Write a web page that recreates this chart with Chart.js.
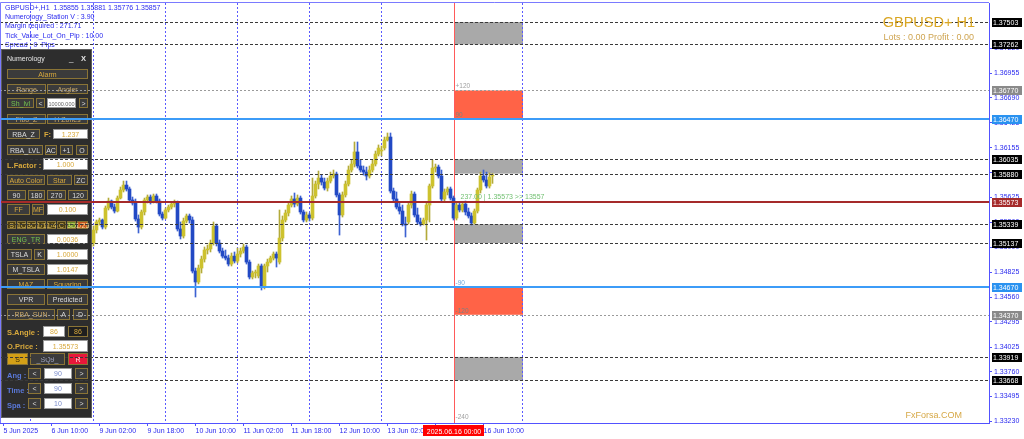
<!DOCTYPE html>
<html>
<head>
<meta charset="utf-8">
<script src="https://cdn.jsdelivr.net/npm/chart.js@4.4.1/dist/chart.umd.min.js"></script>
<style>
html, body { margin: 0; padding: 0; background: #fff; }
#wrap { width: 1024px; height: 439px; }
</style>
</head>
<body>
<div id="wrap"><canvas id="priceGraph" width="1024" height="439"></canvas></div>
<script>
/*** Data: GBPUSD+ H1 candles, bar 0 = 5 Jun 18:00 ***/
const opens = [
    1.35277, 1.35320, 1.35256, 1.35191, 1.35223, 1.35159, 1.35213, 1.35288, 1.35245, 1.35330,
    1.35373, 1.35320, 1.35266, 1.35213, 1.35170, 1.35234, 1.35202, 1.35127, 1.35084, 1.35138,
    1.35181, 1.35149, 1.35213, 1.35170, 1.35106, 1.35063, 1.35116, 1.35074, 1.35127, 1.35095,
    1.35138, 1.35277, 1.35363, 1.35384, 1.35309, 1.35512, 1.35587, 1.35523, 1.35480, 1.35619,
    1.35705, 1.35758, 1.35716, 1.35598, 1.35566, 1.35395, 1.35309, 1.35470, 1.35598, 1.35630,
    1.35577, 1.35641, 1.35587, 1.35448, 1.35405, 1.35491, 1.35523, 1.35555, 1.35566, 1.35288,
    1.35213, 1.35373, 1.35427, 1.35384, 1.34838, 1.34721, 1.34870, 1.34966, 1.35063, 1.35074,
    1.35138, 1.35320, 1.35138, 1.35052, 1.34998, 1.34977, 1.34913, 1.34998, 1.34945, 1.35020,
    1.35052, 1.35095, 1.34934, 1.34774, 1.34817, 1.34785, 1.34892, 1.34667, 1.34892, 1.34934,
    1.34977, 1.35020, 1.34934, 1.35191, 1.35384, 1.35459, 1.35544, 1.35609, 1.35555, 1.35619,
    1.35470, 1.35384, 1.35438, 1.35405, 1.35641, 1.35769, 1.35833, 1.35790, 1.35726, 1.35801,
    1.35855, 1.35876, 1.35652, 1.35438, 1.35652, 1.35769, 1.35919, 1.35983, 1.36112, 1.35962,
    1.35919, 1.35897, 1.35855, 1.35919, 1.35983, 1.36090, 1.36122, 1.36154, 1.36240, 1.36272,
    1.35694, 1.35609, 1.35523, 1.35480, 1.35341, 1.35363, 1.35544, 1.35662, 1.35438, 1.35363,
    1.35341, 1.35384, 1.35544, 1.35748, 1.35940, 1.35951, 1.35855, 1.35609, 1.35684, 1.35716,
    1.35619, 1.35405, 1.35544, 1.35491, 1.35555, 1.35470, 1.35427, 1.35352, 1.35480, 1.35705,
    1.35855, 1.35812, 1.35748, 1.35855
];
const highs = [
    1.35352, 1.35352, 1.35277, 1.35245, 1.35245, 1.35234, 1.35320, 1.35309, 1.35363, 1.35405,
    1.35395, 1.35341, 1.35288, 1.35234, 1.35266, 1.35256, 1.35223, 1.35149, 1.35159, 1.35213,
    1.35202, 1.35245, 1.35234, 1.35191, 1.35127, 1.35138, 1.35138, 1.35149, 1.35159, 1.35170,
    1.35320, 1.35384, 1.35405, 1.35395, 1.35534, 1.35619, 1.35598, 1.35555, 1.35641, 1.35737,
    1.35801, 1.35801, 1.35737, 1.35630, 1.35609, 1.35438, 1.35491, 1.35619, 1.35652, 1.35652,
    1.35662, 1.35662, 1.35609, 1.35470, 1.35512, 1.35544, 1.35577, 1.35598, 1.35587, 1.35363,
    1.35405, 1.35448, 1.35448, 1.35416, 1.34870, 1.34902, 1.34998, 1.35095, 1.35116, 1.35170,
    1.35363, 1.35341, 1.35170, 1.35084, 1.35063, 1.35009, 1.35031, 1.35042, 1.35084, 1.35084,
    1.35127, 1.35116, 1.34956, 1.34838, 1.34849, 1.34913, 1.34913, 1.34913, 1.34966, 1.34998,
    1.35042, 1.35042, 1.35491, 1.35427, 1.35491, 1.35566, 1.35641, 1.35673, 1.35652, 1.35641,
    1.35491, 1.35470, 1.35459, 1.35833, 1.35801, 1.35908, 1.35865, 1.35833, 1.35833, 1.35897,
    1.35919, 1.35897, 1.35673, 1.35684, 1.35801, 1.35962, 1.36026, 1.36219, 1.36219, 1.36026,
    1.35962, 1.35951, 1.35962, 1.36026, 1.36122, 1.36187, 1.36176, 1.36272, 1.36315, 1.36315,
    1.35726, 1.35684, 1.35577, 1.35544, 1.35416, 1.35566, 1.35694, 1.35684, 1.35512, 1.35405,
    1.35405, 1.35566, 1.35769, 1.36026, 1.35983, 1.35972, 1.35919, 1.35716, 1.35737, 1.35737,
    1.35641, 1.35566, 1.35577, 1.35577, 1.35587, 1.35512, 1.35459, 1.35502, 1.35726, 1.35897,
    1.35919, 1.35897, 1.35887, 1.35881
];
const lows = [
    1.35245, 1.35223, 1.35159, 1.35170, 1.35127, 1.35138, 1.35191, 1.35223, 1.35223, 1.35309,
    1.35298, 1.35245, 1.35181, 1.35138, 1.35149, 1.35170, 1.35095, 1.35052, 1.35063, 1.35116,
    1.35116, 1.35127, 1.35149, 1.35074, 1.35031, 1.35042, 1.35052, 1.35063, 1.35074, 1.35084,
    1.35106, 1.35245, 1.35330, 1.35288, 1.35288, 1.35491, 1.35502, 1.35459, 1.35470, 1.35609,
    1.35684, 1.35694, 1.35577, 1.35544, 1.35373, 1.35245, 1.35288, 1.35438, 1.35566, 1.35555,
    1.35566, 1.35566, 1.35427, 1.35384, 1.35395, 1.35470, 1.35502, 1.35523, 1.35266, 1.35181,
    1.35191, 1.35352, 1.35352, 1.34817, 1.34560, 1.34700, 1.34817, 1.34934, 1.35020, 1.35042,
    1.35116, 1.35106, 1.35031, 1.34977, 1.34956, 1.34892, 1.34892, 1.34924, 1.34924, 1.34988,
    1.35031, 1.34913, 1.34753, 1.34753, 1.34764, 1.34764, 1.34635, 1.34646, 1.34828, 1.34924,
    1.34956, 1.34881, 1.34913, 1.35159, 1.35363, 1.35427, 1.35523, 1.35523, 1.35534, 1.35448,
    1.35363, 1.35363, 1.35373, 1.35384, 1.35619, 1.35716, 1.35758, 1.35705, 1.35694, 1.35780,
    1.35833, 1.35630, 1.35223, 1.35416, 1.35630, 1.35748, 1.35897, 1.35951, 1.35940, 1.35897,
    1.35865, 1.35812, 1.35833, 1.35897, 1.35962, 1.36069, 1.36069, 1.36133, 1.36229, 1.35673,
    1.35577, 1.35502, 1.35448, 1.35320, 1.35202, 1.35341, 1.35512, 1.35416, 1.35341, 1.35320,
    1.35330, 1.35170, 1.35363, 1.35726, 1.35897, 1.35833, 1.35587, 1.35587, 1.35652, 1.35598,
    1.35384, 1.35384, 1.35470, 1.35470, 1.35438, 1.35405, 1.35330, 1.35341, 1.35459, 1.35673,
    1.35790, 1.35726, 1.35726, 1.35776
];
const closes = [
    1.35320, 1.35256, 1.35191, 1.35223, 1.35159, 1.35213, 1.35288, 1.35245, 1.35330, 1.35373,
    1.35320, 1.35266, 1.35213, 1.35170, 1.35234, 1.35202, 1.35127, 1.35084, 1.35138, 1.35181,
    1.35149, 1.35213, 1.35170, 1.35106, 1.35063, 1.35116, 1.35074, 1.35127, 1.35095, 1.35138,
    1.35277, 1.35363, 1.35384, 1.35309, 1.35512, 1.35587, 1.35523, 1.35480, 1.35619, 1.35705,
    1.35758, 1.35716, 1.35598, 1.35566, 1.35395, 1.35309, 1.35470, 1.35598, 1.35630, 1.35577,
    1.35641, 1.35587, 1.35448, 1.35405, 1.35491, 1.35523, 1.35555, 1.35566, 1.35288, 1.35213,
    1.35373, 1.35427, 1.35384, 1.34838, 1.34721, 1.34870, 1.34966, 1.35063, 1.35074, 1.35138,
    1.35320, 1.35138, 1.35052, 1.34998, 1.34977, 1.34913, 1.34998, 1.34945, 1.35020, 1.35052,
    1.35095, 1.34934, 1.34774, 1.34817, 1.34828, 1.34892, 1.34667, 1.34892, 1.34934, 1.34977,
    1.35020, 1.34977, 1.35191, 1.35384, 1.35459, 1.35544, 1.35609, 1.35555, 1.35619, 1.35470,
    1.35384, 1.35438, 1.35405, 1.35641, 1.35769, 1.35833, 1.35790, 1.35726, 1.35801, 1.35855,
    1.35876, 1.35652, 1.35438, 1.35652, 1.35769, 1.35919, 1.35983, 1.36112, 1.35962, 1.35919,
    1.35897, 1.35855, 1.35919, 1.35983, 1.36090, 1.36154, 1.36133, 1.36240, 1.36272, 1.35694,
    1.35609, 1.35523, 1.35480, 1.35341, 1.35330, 1.35544, 1.35662, 1.35438, 1.35363, 1.35341,
    1.35384, 1.35544, 1.35748, 1.35940, 1.35951, 1.35855, 1.35609, 1.35684, 1.35716, 1.35619,
    1.35405, 1.35544, 1.35491, 1.35555, 1.35470, 1.35427, 1.35352, 1.35480, 1.35705, 1.35855,
    1.35812, 1.35748, 1.35844, 1.35857
];

// time axis
const xLabels = ['5 Jun 2025', '6 Jun 10:00', '9 Jun 02:00', '9 Jun 18:00', '10 Jun 10:00', '11 Jun 02:00',
    '11 Jun 18:00', '12 Jun 10:00', '13 Jun 02:00', '13 Jun 18:00', '16 Jun 10:00'];
const xLabelBars = [0, 16, 32, 48, 64, 80, 96, 112, 128, 144, 160];
const daySeparatorBars = [9, 30, 54, 78, 102, 126, 173];
const markerBar = 150;            // 2025.06.16 00:00
const markerLabel = '2025.06.16 00:00';
const zoneEndBar = 173;

// price axis
const yTicks = [1.37220, 1.36955, 1.36690, 1.36425, 1.36155, 1.35890, 1.35625, 1.35360,
    1.35090, 1.34825, 1.34560, 1.34295, 1.34025, 1.33760, 1.33495, 1.33230];
const yMin = 1.33212;
const yMax = 1.37706;

// levels drawn on the chart
const blackLevels = [1.37503, 1.37262, 1.36035, 1.35880, 1.35339, 1.35137, 1.33919, 1.33668];
const grayLevels = [1.36770, 1.34370];
const blueLevels = [1.36470, 1.34670];
const openPriceLevel = 1.35573;
const grayZones = [[1.37503, 1.37262], [1.36035, 1.35880], [1.35339, 1.35137], [1.33919, 1.33668]];
const redZones = [[1.36770, 1.36470], [1.34670, 1.34370]];
const angleTexts = ['+120', '90', '-90', '-120', '-240'];
const angleLevels = [1.36770, 1.36470, 1.34670, 1.34370, 1.33230];

const infoLines = [
    'GBPUSD+,H1  ' + [opens, highs, lows, closes].map(a => a[a.length - 1].toFixed(5)).join(' '),
    'Numerology_Station V : 3.90',
    'Margin required : 271.71',
    'Tick_Value_Lot_On_Pip : 10.00',
    'Spread : 0  Pips'
];

/*** Style ***/
const FONT = '"Liberation Sans", Arial, sans-serif';
const axisBlue = '#5252ff';
const txtBlue = '#2a2aee';
const bullColor = '#cdc22e';
const bearColor = '#2249c4';
const bullWick = '#b3aa3a';
const bearWick = '#3d62d2';
const G = '#d8a93c', W = '#dcdcdc', N = '#72c24e', T = '#c9a867';

// Numerology panel controls: label, x, y, w, h, kind, text colour
const panelButtons = [
    ['Alarm', 7, 69, 81, 10, 'btn', G],
    ['Range', 7, 84, 39, 10, 'btn', T], ['Angler', 47, 84, 41, 10, 'btn', T],
    ['Sh_lvl', 7, 98, 27, 10, 'btn', N], ['<', 36, 98, 9, 10, 'btn', W],
    ['10000.000', 47, 98, 29, 10, 'inp', '#666'], ['>', 79, 98, 9, 10, 'btn', W],
    ['Fibo_Z', 7, 114, 39, 10, 'btn', T], ['H Zones', 47, 114, 41, 10, 'btn', T],
    ['RBA_Z', 7, 129, 33, 10, 'btn', W], ['1.237', 53, 129, 35, 10, 'inp', G],
    ['RBA_LVL', 7, 145, 36, 10, 'btn', W], ['AC', 45, 145, 12, 10, 'btn', W],
    ['+1', 60, 145, 13, 10, 'btn', W], ['O', 76, 145, 12, 10, 'btn', W],
    ['1.000', 43, 158, 45, 12, 'inp', G],
    ['Auto Color', 7, 175, 38, 10, 'btn', G], ['Star', 47, 175, 25, 10, 'btn', G], ['ZC', 74, 175, 14, 10, 'btn', W],
    ['90', 7, 190, 19, 10, 'btn', W], ['180', 28, 190, 17, 10, 'btn', W],
    ['270', 47, 190, 19, 10, 'btn', W], ['120', 68, 190, 20, 10, 'btn', W],
    ['FF', 7, 204, 23, 11, 'btn', G], ['MF', 32, 204, 12, 11, 'btn', G], ['0.100', 47, 204, 41, 11, 'inp', G],
    ['S', 7, 221, 9, 8, 'olive', '#e0c060'], ['1C', 17, 221, 9, 8, 'olive', '#e0c060'],
    ['3C', 27, 221, 9, 8, 'olive', '#e0c060'], ['1/1', 37, 221, 9, 8, 'olive', '#e0c060'],
    ['1/4', 47, 221, 9, 8, 'olive', '#e0c060'], ['C', 57, 221, 9, 8, 'olive', '#e0c060'],
    ['3D', 67, 221, 9, 8, 'green', '#e0e080'], ['1/25', 77, 221, 11, 8, 'orange', '#ffe0a0'],
    ['ENG_TR', 7, 234, 38, 10, 'btn', N], ['0.0036', 47, 234, 41, 10, 'inp', G],
    ['TSLA', 7, 249, 25, 11, 'btn', W], ['K', 34, 249, 11, 11, 'btn', W], ['1.0000', 47, 249, 41, 11, 'inp', G],
    ['M_TSLA', 7, 264, 38, 11, 'btn', W], ['1.0147', 47, 264, 41, 11, 'inp', G],
    ['MAZ', 7, 279, 38, 10, 'btn', G], ['Squaring', 47, 279, 41, 10, 'btn', G],
    ['VPR', 7, 294, 38, 11, 'btn', W], ['Predicted', 47, 294, 41, 11, 'btn', W],
    ['RBA_SUN', 7, 309, 48, 11, 'btn', T], ['A', 57, 309, 13, 11, 'btn', W], ['D', 73, 309, 15, 11, 'btn', W],
    ['86', 43, 326, 22, 11, 'inp', G], ['86', 68, 326, 20, 11, 'dark', G],
    ['1.35573', 43, 340, 45, 12, 'inp', G],
    ['S', 7, 353, 21, 12, 'gold', '#3a2a00'], ['_SQ9_', 30, 353, 35, 12, 'btn', '#a0a4c0'], ['R', 68, 353, 20, 12, 'red', '#ffe8e8'],
    ['<', 28, 368, 13, 11, 'btn', W], ['90', 44, 368, 28, 11, 'inp', '#7a8ccc'], ['>', 75, 368, 13, 11, 'btn', W],
    ['<', 28, 383, 13, 11, 'btn', W], ['90', 44, 383, 28, 11, 'inp', '#7a8ccc'], ['>', 75, 383, 13, 11, 'btn', W],
    ['<', 28, 398, 13, 11, 'btn', W], ['10', 44, 398, 28, 11, 'inp', '#7a8ccc'], ['>', 75, 398, 13, 11, 'btn', W]
];
const panelLabels = [
    ['F:', 44, 137, G], ['L.Factor :', 7, 168, G], ['S.Angle :', 7, 335, G], ['O.Price :', 7, 349, G],
    ['Ang :', 7, 378, '#5a78d8'], ['Time :', 7, 393, '#5a78d8'], ['Spa :', 7, 408, '#5a78d8']
];

function txt(ctx, s, x, y, color, size, align, weight) {
    ctx.font = (weight || 'normal') + ' ' + size + 'px ' + FONT;
    ctx.fillStyle = color;
    ctx.textAlign = align || 'left';
    ctx.textBaseline = 'alphabetic';
    ctx.fillText(s, x, y);
}

function drawButton(ctx, b) {
    const [label, x, y, w, h, kind, color] = b;
    const fills = {btn: '#3b3b3b', inp: '#ffffff', dark: '#1f1f1f', gold: '#d4a017', red: '#e8173a',
        olive: '#4b3d12', green: '#6b8e23', orange: '#c8551c'};
    ctx.fillStyle = fills[kind];
    ctx.fillRect(x, y, w, h);
    ctx.strokeStyle = kind === 'inp' ? '#9a9a9a' : '#8a7436';
    ctx.lineWidth = 1;
    ctx.setLineDash([]);
    ctx.strokeRect(x + 0.5, y + 0.5, w - 1, h - 1);
    const size = label.length > 7 && w < 32 ? 5.5 : 7;
    txt(ctx, label, x + w / 2, y + h / 2 + 2.5, color, size, 'center');
}

function drawPanel(ctx) {
    ctx.save();
    ctx.fillStyle = '#2d2d2d';
    ctx.fillRect(1, 49, 91, 369);
    ctx.strokeStyle = '#5e5e5e';
    ctx.lineWidth = 1;
    ctx.strokeRect(1.5, 49.5, 90, 368);
    txt(ctx, 'Numerology', 7, 61, '#e6e6e6', 7);
    txt(ctx, '_', 69, 61, '#e6e6e6', 8);
    txt(ctx, 'X', 81, 61, '#e6e6e6', 7.5, 'left', 'bold');
    panelButtons.forEach(b => drawButton(ctx, b));
    panelLabels.forEach(([s, x, y, c]) => txt(ctx, s, x, y, c, 7.5, 'left', 'bold'));
    ctx.restore();
}

function hLine(ctx, area, y, color, width, dash) {
    ctx.beginPath();
    ctx.strokeStyle = color;
    ctx.lineWidth = width;
    ctx.setLineDash(dash);
    const yy = width % 2 ? Math.round(y) + 0.5 : Math.round(y);
    ctx.moveTo(area.left, yy);
    ctx.lineTo(area.right, yy);
    ctx.stroke();
}

const mtPlugin = {
    id: 'mtObjects',
    beforeDatasetsDraw(chart) {
        const {ctx, chartArea: a, scales: {x, y}} = chart;
        ctx.save();
        const x1 = Math.round(x.getPixelForValue(markerBar)), x2 = Math.round(x.getPixelForValue(zoneEndBar));
        ctx.fillStyle = '#a9a9a9';
        grayZones.forEach(([hi, lo]) => {
            const y1 = y.getPixelForValue(hi), y2 = y.getPixelForValue(lo);
            ctx.fillRect(x1, y1, x2 - x1, y2 - y1);
        });
        ctx.fillStyle = '#ff6347';
        redZones.forEach(([hi, lo]) => {
            const y1 = y.getPixelForValue(hi), y2 = y.getPixelForValue(lo);
            ctx.fillRect(x1, y1, x2 - x1, y2 - y1);
        });
        // day separators
        ctx.strokeStyle = '#5a5aff';
        ctx.lineWidth = 1;
        ctx.setLineDash([2, 2]);
        daySeparatorBars.forEach(b => {
            const px = Math.floor(x.getPixelForValue(b)) + 0.5;
            ctx.beginPath();
            ctx.moveTo(px, a.top);
            ctx.lineTo(px, a.bottom);
            ctx.stroke();
        });
        // time marker
        ctx.setLineDash([]);
        ctx.strokeStyle = '#ff5a5a';
        const mx = x1 + 0.5;
        ctx.beginPath();
        ctx.moveTo(mx, a.top);
        ctx.lineTo(mx, a.bottom);
        ctx.stroke();
        ctx.restore();
    },
    afterDatasetsDraw(chart) {
        const {ctx, chartArea: a, scales: {x, y}} = chart;
        drawPanel(ctx);
        ctx.save();
        // info block
        infoLines.forEach((s, i) => txt(ctx, s, 5, 10 + i * 9.2, txtBlue, 7));
        // levels
        blackLevels.forEach(v => hLine(ctx, a, y.getPixelForValue(v), '#3a3a3a', 1, [3, 2]));
        grayLevels.forEach(v => hLine(ctx, a, y.getPixelForValue(v), '#9a9a9a', 1, [2, 2]));
        blueLevels.forEach(v => hLine(ctx, a, y.getPixelForValue(v), '#3c9cf8', 2, []));
        hLine(ctx, a, y.getPixelForValue(openPriceLevel), '#a52a2a', 2, []);
        // angle texts
        const tx = x.getPixelForValue(markerBar) + 2;
        const angleColors = ['#a0a0a0', '#808080', '#6fa8dc', '#808080', '#a0a0a0'];
        angleTexts.forEach((s, i) => txt(ctx, s, tx, y.getPixelForValue(angleLevels[i]) - 2, angleColors[i], 6.5));
        txt(ctx, '237.00 | ' + openPriceLevel.toFixed(5) + ' >> 13557', tx + 5, y.getPixelForValue(openPriceLevel) - 3, '#72c072', 7);
        // titles
        txt(ctx, 'GBPUSD+ H1', 975, 27, '#d9a521', 14.5, 'right');
        txt(ctx, 'Lots : 0.00 Profit : 0.00', 974, 40, '#cfa552', 9, 'right');
        txt(ctx, 'FxForsa.COM', 962, 418, '#d6a846', 9, 'right');
        // frame
        ctx.setLineDash([]);
        ctx.strokeStyle = '#7a7aff';
        ctx.lineWidth = 1;
        ctx.beginPath();
        ctx.moveTo(a.left + 0.5, a.bottom);
        ctx.lineTo(a.left + 0.5, a.top - 0.5);
        ctx.lineTo(a.right, a.top - 0.5);
        ctx.stroke();
        ctx.restore();
    },
    afterDraw(chart) {
        const {ctx, chartArea: a, scales: {x, y}} = chart;
        ctx.save();
        const box = (v, bg) => {
            const py = Math.round(y.getPixelForValue(v));
            ctx.fillStyle = bg;
            ctx.fillRect(a.right + 3, py - 4, 30, 9);
            txt(ctx, v.toFixed(5), a.right + 4, py + 3, '#ffffff', 7);
        };
        blackLevels.forEach(v => box(v, '#000000'));
        grayLevels.forEach(v => box(v, '#8a8a8a'));
        blueLevels.forEach(v => box(v, '#2a92f0'));
        box(openPriceLevel, '#a52a2a');
        // marker time label
        const mx = Math.round(x.getPixelForValue(markerBar));
        ctx.fillStyle = '#ff0000';
        ctx.fillRect(mx - 31, a.bottom + 2, 61, 11);
        txt(ctx, markerLabel, mx, a.bottom + 10.5, '#ffffff', 7, 'center');
        ctx.restore();
    }
};

/*** Create graph ***/
Chart.defaults.font.family = FONT;
Chart.defaults.font.size = 7;

const bodyData = opens.map((o, i) => ({x: i, y: [o, closes[i]]}));
const wickData = lows.map((l, i) => ({x: i, y: [l, highs[i]]}));
const isBull = opens.map((o, i) => closes[i] >= o);

const ctx = document.getElementById('priceGraph').getContext('2d');
const priceGraph = new Chart(ctx, {
    type: 'bar',
    data: {
        datasets: [
            {
                label: 'body',
                data: bodyData,
                backgroundColor: isBull.map(b => b ? bullColor : bearColor),
                barThickness: 3,
                minBarLength: 1,
                grouped: false,
                borderWidth: 0
            },
            {
                label: 'wick',
                data: wickData,
                backgroundColor: isBull.map(b => b ? bullWick : bearWick),
                barThickness: 1,
                grouped: false,
                borderWidth: 0
            }
        ]
    },
    options: {
        responsive: false,
        animation: false,
        devicePixelRatio: 1,
        layout: { padding: { top: 3, left: 0, right: 0, bottom: 0 } },
        plugins: {
            legend: { display: false },
            tooltip: { enabled: false },
            title: { display: false }
        },
        scales: {
            x: {
                type: 'linear',
                min: -1.1667,
                max: 328.5,
                offset: false,
                bounds: 'data',
                grid: { display: true, drawOnChartArea: false, drawTicks: true, tickLength: 3, color: axisBlue, offset: false },
                border: { color: axisBlue },
                ticks: {
                    autoSkip: false, maxRotation: 0, minRotation: 0, align: 'start', padding: 1,
                    color: txtBlue, font: { size: 7 },
                    callback: (v, idx) => xLabels[idx] || ''
                },
                afterBuildTicks: s => { s.ticks = xLabelBars.map(v => ({ value: v })); },
                afterFit: s => { s.height = 16; s.paddingLeft = 0; s.paddingRight = 0; }
            },
            y: {
                type: 'linear',
                position: 'right',
                min: yMin,
                max: yMax,
                bounds: 'data',
                beginAtZero: false,
                grid: { drawOnChartArea: false, tickLength: 3, color: axisBlue },
                border: { color: axisBlue },
                ticks: { padding: 2, color: txtBlue, font: { size: 7 }, callback: v => Number(v).toFixed(5) },
                afterBuildTicks: s => { s.ticks = yTicks.map(v => ({ value: v })); },
                afterFit: s => { s.width = 35; s.paddingTop = 0; s.paddingBottom = 0; }
            }
        }
    },
    plugins: [mtPlugin]
});
</script>
</body>
</html>
